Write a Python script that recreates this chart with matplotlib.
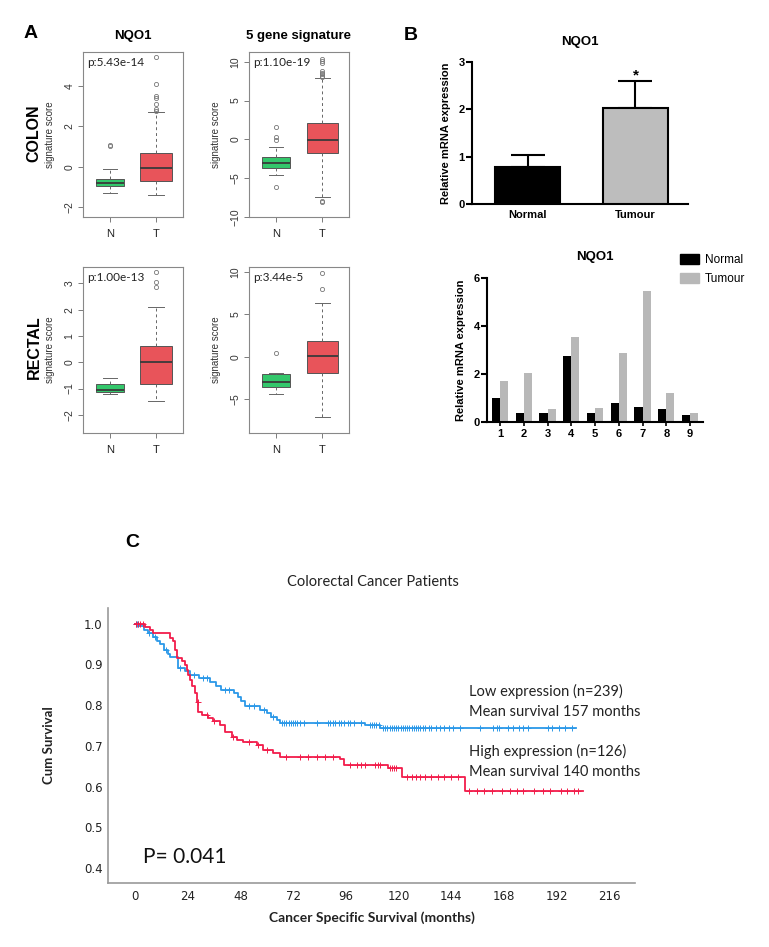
import numpy as np
import matplotlib
matplotlib.use("Agg")
import matplotlib.pyplot as plt
from matplotlib.patches import Patch

W, H = 769, 947

# ---------------- panel A: box statistics [whislo, q1, med, q3, whishi] ----------------
groups = ["N", "T"]
colon_nqo1 = [[-1.29, -0.96, -0.80, -0.61, -0.13], [-1.42, -0.68, -0.08, 0.70, 2.70]]
colon_nqo1_fl = [[1.02, 1.08], [2.78, 2.85, 3.12, 3.40, 3.48, 4.10, 5.44]]
colon_sig = [[-4.6, -3.66, -3.0, -2.24, -1.0], [-7.4, -1.72, -0.1, 2.15, 7.9]]
colon_sig_fl = [[-6.2, -0.1, 0.35, 1.6], [-8.1, -7.9, 8.0, 8.2, 8.4, 8.6, 8.8, 9.8, 10.1, 10.4]]
rectal_nqo1 = [[-1.20, -1.14, -1.05, -0.84, -0.61], [-1.46, -0.82, 0.0, 0.62, 2.09]]
rectal_nqo1_fl = [[], [2.84, 3.03, 3.41]]
rectal_sig = [[-4.42, -3.53, -3.0, -2.04, -1.88], [-7.06, -1.88, 0.08, 1.85, 6.28]]
rectal_sig_fl = [[0.4], [7.96, 9.88]]
pvals = ["p:5.43e-14", "p:1.10e-19", "p:1.00e-13", "p:3.44e-5"]

# ---------------- panel B ----------------
b_groups = ["Normal", "Tumour"]
b_mean = [0.77, 2.02]
b_err = [0.27, 0.58]
pairs = ["1", "2", "3", "4", "5", "6", "7", "8", "9"]
pair_normal = [1.0, 0.35, 0.35, 2.76, 0.38, 0.80, 0.60, 0.53, 0.30]
pair_tumour = [1.70, 2.05, 0.53, 3.56, 0.56, 2.86, 5.47, 1.19, 0.35]

# ---------------- panel C: Kaplan-Meier ----------------
low_t = [2, 4, 6, 8, 10, 11.5, 13, 15, 16, 19.5, 23, 25, 29, 34, 37, 39, 45, 47, 48.5, 50,
         57, 60, 62, 64.5, 66, 104.8, 111.6]
low_s = [0.993, 0.985, 0.976, 0.966, 0.958, 0.95, 0.935, 0.925, 0.917, 0.892, 0.884, 0.874,
         0.866, 0.857, 0.846, 0.837, 0.829, 0.82, 0.81, 0.797, 0.788, 0.78, 0.772, 0.764,
         0.757, 0.751, 0.744]
low_end = 201
low_cens = [0.5, 1, 1.5, 6.5, 9, 14, 20.5, 27, 31, 33, 41, 43, 52, 54, 59, 63, 67, 68, 69, 70,
            71, 72, 73, 74, 75, 77, 83, 88, 89, 90, 91, 93, 94, 95, 97, 98, 100, 103, 107, 108,
            109, 110, 111, 113, 114, 115, 116, 117, 118, 119, 120, 121, 122, 123, 124, 125, 126,
            127, 128, 129, 130, 131, 132, 134, 135, 137, 139, 141, 143, 145, 148, 157, 163, 165,
            166, 170, 172, 175, 177, 179, 188, 190, 193, 196, 199]
high_t = [4.5, 7, 8.3, 15.9, 17.5, 18.2, 19, 21.3, 22.8, 23.5, 24.3, 25, 25.8, 27.3, 28.1, 28.8,
          30.4, 33.4, 35.7, 38.7, 41, 44, 46.3, 49.3, 55.4, 58.5, 63, 66, 93.4, 95, 115.4,
          121.5, 150.3]
high_s = [0.992, 0.984, 0.976, 0.964, 0.957, 0.935, 0.915, 0.908, 0.898, 0.886, 0.874, 0.862,
          0.846, 0.83, 0.808, 0.784, 0.776, 0.768, 0.76, 0.751, 0.733, 0.723, 0.714, 0.71,
          0.702, 0.69, 0.683, 0.674, 0.667, 0.654, 0.645, 0.623, 0.59]
high_end = 204
high_cens = [0.5, 1.5, 2.5, 3.5, 28.5, 33, 36, 44.5, 52, 56, 60, 69, 75, 79, 83, 86.6, 90, 98,
             101, 103, 105, 109.3, 110.7, 111.6, 116, 117, 118, 119, 124, 126, 128, 130, 132,
             135, 138, 141, 144, 147, 152, 156, 159, 162.5, 167, 171, 174, 177, 182, 186, 189,
             194, 197, 200, 202]
x_ticks = [0, 24, 48, 72, 96, 120, 144, 168, 192, 216]
y_ticks = [0.4, 0.5, 0.6, 0.7, 0.8, 0.9, 1.0]


def rect(x0, y0, x1, y1):
    return [x0 / W, 1 - y1 / H, (x1 - x0) / W, (y1 - y0) / H]


def ftext(x, y, s, **kw):
    fig.text(x / W, 1 - y / H, s, ha="center", va="center", **kw)


ARIAL = ["Liberation Sans", "DejaVu Sans"]
fig = plt.figure(figsize=(W / 100, H / 100), dpi=100)
fig.patch.set_facecolor("white")

GREEN, RED = "#33c76b", "#e8545a"


def draw_box(pos, stats, fliers, ylim, yticks, ptxt):
    ax = fig.add_axes(rect(*pos))
    bs = []
    for st, fl in zip(stats, fliers):
        bs.append(dict(whislo=st[0], q1=st[1], med=st[2], q3=st[3], whishi=st[4], fliers=fl))
    res = ax.bxp(bs, positions=[1, 2], widths=[0.6, 0.68], capwidths=[0.3, 0.34],
                 patch_artist=True,
                 boxprops=dict(edgecolor="#555555", linewidth=0.7),
                 medianprops=dict(color="#3a3a3a", linewidth=1.3),
                 whiskerprops=dict(color="#666666", linewidth=0.7, linestyle=(0, (3, 3))),
                 capprops=dict(color="#666666", linewidth=0.7),
                 flierprops=dict(marker="o", markerfacecolor="none", markeredgecolor="#777777",
                                 markersize=3, markeredgewidth=0.6))
    for patch, c in zip(res["boxes"], [GREEN, RED]):
        patch.set_facecolor(c)
    ax.set_xlim(0.42, 2.58)
    ax.set_ylim(*ylim)
    ax.set_yticks(yticks)
    ax.set_xticks([1, 2])
    ax.set_xticklabels(groups, family=ARIAL, fontsize=8, color="#222222")
    for lab in ax.get_yticklabels():
        lab.set_rotation(90)
        lab.set_va("center")
        lab.set_family(ARIAL)
    ax.tick_params(axis="y", labelsize=7.5, length=3.5, width=0.6, color="#666666",
                   labelcolor="#333333", pad=3)
    ax.tick_params(axis="x", length=3.5, width=0.6, color="#666666", pad=5)
    for sp in ax.spines.values():
        sp.set_color("#888888")
        sp.set_linewidth(0.8)
    ax.set_ylabel("signature score", family=ARIAL, fontsize=7, color="#333333")
    ax.yaxis.set_label_coords(-0.28, 0.5)
    ax.text(0.04, 0.935, ptxt, transform=ax.transAxes, family=["Lato", "DejaVu Sans"],
            fontsize=8.5, va="center", ha="left", color="#222222")
    return ax


draw_box((83.3, 51.7, 182.7, 217.3), colon_nqo1, colon_nqo1_fl, (-2.5, 5.69), [-2, 0, 2, 4], pvals[0])
draw_box((249.3, 51.7, 349.3, 217.3), colon_sig, colon_sig_fl, (-10.06, 11.3), [-10, -5, 0, 5, 10], pvals[1])
draw_box((83.3, 266.7, 182.7, 432.7), rectal_nqo1, rectal_nqo1_fl, (-2.68, 3.63), [-2, -1, 0, 1, 2, 3], pvals[2])
draw_box((249.3, 266.7, 349.3, 432.7), rectal_sig, rectal_sig_fl, (-8.94, 10.6), [-5, 0, 5, 10], pvals[3])

ftext(30.5, 33, "A", family=ARIAL, fontsize=14, fontweight="bold")
ftext(133, 36, "NQO1", family=ARIAL, fontsize=9.5, fontweight="bold")
ftext(298.7, 36, "5 gene signature", family=ARIAL, fontsize=9.5, fontweight="bold")
NARROW = ["Liberation Sans Narrow", "Liberation Sans"]
ftext(34, 133, "COLON", family=NARROW, fontsize=11.5, fontweight="bold", rotation=90)
ftext(34, 347, "RECTAL", family=NARROW, fontsize=11.5, fontweight="bold", rotation=90)

# ---------------- panel B top ----------------
axb = fig.add_axes(rect(471.7, 61.7, 688.3, 204))
xb = np.arange(len(b_groups))
axb.bar(xb, b_mean, width=0.6, color=["black", "#bdbdbd"], edgecolor="black", linewidth=1.5,
        zorder=3)
axb.errorbar(xb, b_mean, yerr=[np.zeros(len(b_err)), b_err], fmt="none", ecolor="black",
             elinewidth=1.5, capsize=12, capthick=1.5, zorder=2)
axb.text(xb[1], b_mean[1] + b_err[1] + 0.12, "*", ha="center", va="center", fontsize=11,
         family=ARIAL, fontweight="bold")
axb.set_xlim(-0.52, 1.49)
axb.set_ylim(0, 3)
axb.set_yticks([0, 1, 2, 3])
axb.set_xticks(xb)
axb.set_xticklabels(b_groups)
for sp in ["top", "right"]:
    axb.spines[sp].set_visible(False)
for sp in ["left", "bottom"]:
    axb.spines[sp].set_linewidth(1.5)
axb.tick_params(axis="y", length=4, width=1.5, pad=1)
axb.tick_params(axis="x", length=0, pad=4)
for lab in axb.get_xticklabels() + axb.get_yticklabels():
    lab.set_family(ARIAL)
    lab.set_fontweight("bold")
    lab.set_fontsize(8)
axb.set_ylabel("Relative mRNA expression", family=ARIAL, fontweight="bold", fontsize=8)
axb.yaxis.set_label_coords(-0.095, 0.5)
ftext(411, 36, "B", family=ARIAL, fontsize=14, fontweight="bold")
ftext(580, 42, "NQO1", family=ARIAL, fontsize=9.5, fontweight="bold")

# ---------------- panel B bottom ----------------
axp = fig.add_axes(rect(486.7, 278.3, 703.3, 421.7))
xp = np.arange(1, len(pairs) + 1)
axp.bar(xp - 0.17, pair_normal, width=0.34, color="black", label="Normal")
axp.bar(xp + 0.17, pair_tumour, width=0.34, color="#b8b8b8", label="Tumour")
axp.set_xlim(0.44, 9.56)
axp.set_ylim(0, 6)
axp.set_yticks([0, 2, 4, 6])
axp.set_xticks(xp)
axp.set_xticklabels(pairs)
for sp in ["top", "right"]:
    axp.spines[sp].set_visible(False)
for sp in ["left", "bottom"]:
    axp.spines[sp].set_linewidth(1.5)
axp.tick_params(axis="y", length=4, width=1.5, pad=1)
axp.tick_params(axis="x", length=3, width=1.2, pad=2)
for lab in axp.get_xticklabels() + axp.get_yticklabels():
    lab.set_family(ARIAL)
    lab.set_fontweight("bold")
    lab.set_fontsize(8)
axp.set_ylabel("Relative mRNA expression", family=ARIAL, fontweight="bold", fontsize=8)
axp.yaxis.set_label_coords(-0.095, 0.5)
axp.legend(handles=[Patch(color="black", label="Normal"), Patch(color="#b8b8b8", label="Tumour")],
           loc="upper left", bbox_to_anchor=(0.87, 1.2), frameon=False,
           prop=dict(family=ARIAL, size=8.5), handlelength=1.6, handleheight=0.9,
           handletextpad=0.5, labelspacing=0.55, borderaxespad=0)
ftext(595, 257, "NQO1", family=ARIAL, fontsize=9.5, fontweight="bold")

# ---------------- panel C ----------------
LATO = ["Lato", "DejaVu Sans"]
axc = fig.add_axes(rect(108, 608, 635, 882.7))
BLUE, CRIM = "#2b98e8", "#f21d4b"
for t, s, end, cens, col in [(low_t, low_s, low_end, low_cens, BLUE),
                             (high_t, high_s, high_end, high_cens, CRIM)]:
    tt = np.r_[0, t, end]
    ss = np.r_[1.0, s, s[-1]]
    axc.step(tt, ss, where="post", color=col, linewidth=1.3, zorder=3)
    idx = np.searchsorted(tt, cens, side="right") - 1
    axc.plot(cens, ss[idx], linestyle="none", marker="+", color=col, markersize=4.5,
             markeredgewidth=0.7, zorder=3)
axc.set_xlim(-12.3, 227.8)
axc.set_ylim(0.3647, 1.038)
axc.set_xticks(x_ticks)
axc.set_yticks(y_ticks)
axc.set_yticklabels([f"{v:.1f}" for v in y_ticks])
for sp in ["top", "right"]:
    axc.spines[sp].set_visible(False)
for sp in ["left", "bottom"]:
    axc.spines[sp].set_color("#9a9a9a")
    axc.spines[sp].set_linewidth(1.2)
axc.tick_params(axis="both", length=0, labelsize=8.5, labelcolor="#222222")
axc.tick_params(axis="x", pad=5)
axc.tick_params(axis="y", pad=4)
for lab in axc.get_xticklabels() + axc.get_yticklabels():
    lab.set_family(["DejaVu Sans"])
axc.set_xlabel("Cancer Specific Survival (months)", family=LATO, fontweight="bold",
               fontsize=10, color="#222222")
axc.xaxis.set_label_coords(0.5, -0.105)
axc.set_ylabel("Cum Survival", family=LATO, fontweight="bold", fontsize=9.5, color="#222222")
axc.yaxis.set_label_coords(-0.1, 0.5)
for y, s in [(0.833, "Low expression (n=239)"), (0.784, "Mean survival 157 months"),
             (0.686, "High expression (n=126)"), (0.637, "Mean survival 140 months")]:
    axc.text(152.2, y, s, family=LATO, fontsize=10.5, va="center", ha="left", color="#222222")
axc.text(3.8, 0.428, "P= 0.041", family=LATO, fontsize=15, va="center", ha="left",
         color="#111111")
ftext(373, 582, "Colorectal Cancer Patients", family=LATO, fontsize=10.5, color="#222222")
ftext(132, 542, "C", family=ARIAL, fontsize=14, fontweight="bold")

fig.savefig("out.png", dpi=100, facecolor="white")
